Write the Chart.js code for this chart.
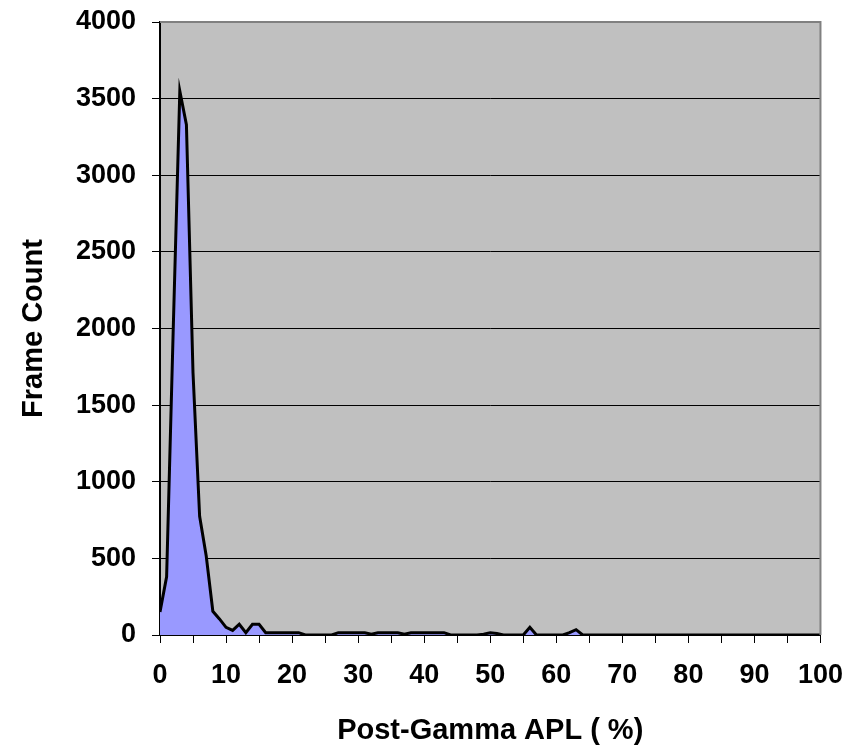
<!DOCTYPE html>
<html>
<head>
<meta charset="utf-8">
<script src="https://cdn.jsdelivr.net/npm/chart.js@4.4.0/dist/chart.umd.min.js"></script>
<style>
  html, body { margin: 0; padding: 0; background: #fff; }
  #wrap { width: 859px; height: 754px; }
</style>
</head>
<body>
<div id="wrap"><canvas id="myChart"></canvas></div>
<script>
// Post-gamma APL (%) bins and the frame count in each
const apl = [];
for (let i = 0; i <= 100; i++) apl.push(i);

const frameCounts = [
  150, 380, 1990, 3550, 3330, 1710, 775, 515, 155, 105,   // 0-9
  50, 30, 70, 15, 70, 70, 15, 15, 15, 15,                // 10-19
  15, 15, 0, 0, 0, 0, 0, 15, 15, 15,                     // 20-29
  15, 15, 5, 15, 15, 15, 15, 5, 15, 15,                  // 30-39
  15, 15, 15, 15, 0, 0, 0, 0, 0, 5,                      // 40-49
  15, 10, 0, 0, 0, 0, 50, 0, 0, 0,                       // 50-59
  0, 0, 15, 35, 0, 0, 0, 0, 0, 0,                        // 60-69
  0, 0, 0, 0, 0, 0, 0, 0, 0, 0,                          // 70-79
  0, 0, 0, 0, 0, 0, 0, 0, 0, 0,                          // 80-89
  0, 0, 0, 0, 0, 0, 0, 0, 0, 0,                          // 90-99
  0                                                      // 100
];

const yTicks = [0, 500, 1000, 1500, 2000, 2500, 3000, 3500, 4000];

const FONT = 'Liberation Sans, Arial, sans-serif';

// grey plot area + grey frame on top/right like the Excel original
const plotArea = {
  id: 'plotArea',
  beforeDraw(chart) {
    const { ctx, chartArea: a } = chart;
    ctx.save();
    ctx.fillStyle = '#C0C0C0';
    ctx.fillRect(a.left, a.top, a.right - a.left, a.bottom - a.top);
    ctx.restore();
  },
  afterDatasetsDraw(chart) {
    const { ctx, chartArea: a } = chart;
    ctx.save();
    ctx.strokeStyle = '#808080';
    ctx.lineWidth = 2;
    ctx.beginPath();
    ctx.moveTo(a.left, a.top);
    ctx.lineTo(a.right, a.top);
    ctx.lineTo(a.right, a.bottom);
    ctx.stroke();
    ctx.restore();
  }
};

const ctx = document.getElementById('myChart').getContext('2d');
const chart = new Chart(ctx, {
  type: 'line',
  data: {
    datasets: [{
      data: apl.map((x, i) => ({ x: x, y: frameCounts[i] })),
      borderColor: '#000000',
      borderWidth: 3,
      backgroundColor: '#9999FF',
      fill: 'origin',
      pointRadius: 0,
      tension: 0
    }]
  },
  options: {
    responsive: true,
    maintainAspectRatio: false,
    animation: false,
    layout: { padding: { top: 22, right: 37, left: 0, bottom: 0 } },
    plugins: {
      legend: { display: false },
      tooltip: { enabled: false }
    },
    scales: {
      x: {
        type: 'linear',
        min: 0,
        max: 100,
        afterFit: (scale) => { scale.height = 119; },
        ticks: {
          stepSize: 5,
          autoSkip: false,
          maxRotation: 0,
          padding: 16,
          color: '#000',
          font: { family: FONT, size: 27, weight: 'bold' },
          callback: (v) => (v % 10 === 0 ? String(v) : '')
        },
        grid: {
          drawOnChartArea: false,
          drawTicks: true,
          tickLength: 8,
          tickColor: '#000'
        },
        border: { color: '#000', width: 2 },
        title: {
          display: true,
          text: 'Post-Gamma APL ( %)',
          color: '#000',
          font: { family: FONT, size: 29, weight: 'bold' },
          padding: { top: 0, bottom: 6 }
        }
      },
      y: {
        min: 0,
        max: 4000,
        afterFit: (scale) => {
          scale.width = 160;
          scale.paddingTop = 0;
          scale.paddingBottom = 0;
        },
        afterBuildTicks: (scale) => { scale.ticks = yTicks.map(v => ({ value: v })); },
        ticks: {
          padding: 16,
          color: '#000',
          font: { family: FONT, size: 27, weight: 'bold' },
          callback: (v) => String(v)
        },
        grid: {
          color: '#000',
          lineWidth: 1,
          drawTicks: true,
          tickLength: 8,
          tickColor: '#000'
        },
        border: { color: '#000', width: 2 },
        title: {
          display: true,
          text: 'Frame Count',
          color: '#000',
          font: { family: FONT, size: 29, weight: 'bold' },
          padding: { top: 17, bottom: 0 }
        }
      }
    }
  },
  plugins: [plotArea]
});
</script>
</body>
</html>
